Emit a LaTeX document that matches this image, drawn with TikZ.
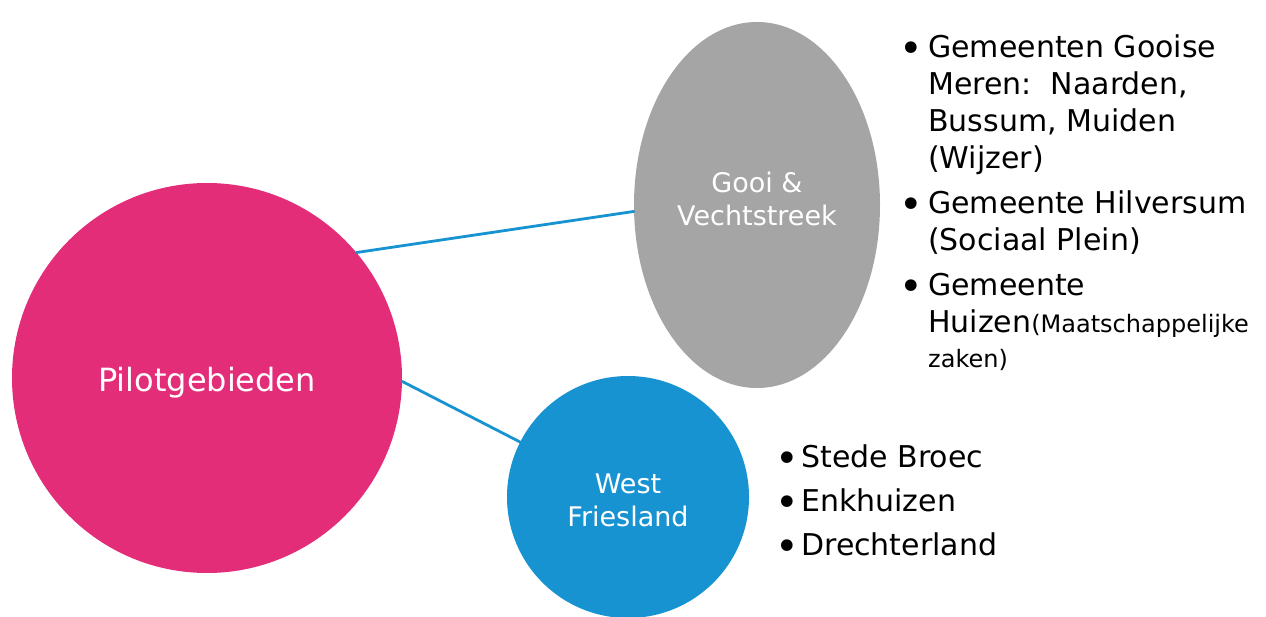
\documentclass[tikz,border=0pt]{standalone}
\usepackage{fontspec}
\setmainfont{DejaVu Sans}
\usetikzlibrary{shapes.geometric}
\definecolor{pilotroze}{HTML}{E32D78}
\definecolor{gooigrijs}{HTML}{A5A5A5}
\definecolor{friesblauw}{HTML}{1893D2}
\newcommand{\blt}[1]{\makebox[#1][l]{\raisebox{-5.5pt}{\fontsize{40}{0}\selectfont\textbullet}}}
\newcommand{\schuif}[2]{\raisebox{#1}[\height][\depth]{#2}}
\begin{document}
\begin{tikzpicture}[x=1pt, y=-1pt, line join=round, line cap=round,
	gebied/.style={draw=none, text=white, align=center, inner sep=0pt},
	lijn/.style={draw=friesblauw, line width=2.8pt},
	lijst/.style={anchor=north west, inner sep=0pt, align=left}]
	\useasboundingbox (0,0) rectangle (1266,617);
	% regio's
	\node[gebied, circle, fill=pilotroze, minimum size=390pt, font=\fontsize{32}{38}\selectfont] (pil) at (207,378) {\schuif{-5pt}{Pilotgebieden}};
	\node[gebied, ellipse, fill=gooigrijs, minimum width=246pt, minimum height=366pt, font=\fontsize{27}{33}\selectfont] (gooi) at (757,205) {\schuif{3pt}{\begin{tabular}{@{}c@{}}Gooi \&\\Vechtstreek\end{tabular}}};
	\node[gebied, circle, fill=friesblauw, minimum size=242pt, font=\fontsize{27}{33}\selectfont] (wf) at (628,497) {\schuif{-6pt}{\begin{tabular}{@{}c@{}}West\\Friesland\end{tabular}}};
	\draw[lijn] (pil.40)--(gooi.183) (pil.-1)--(wf.153);
	% gemeenten
	\node[lijst, font=\fontsize{30}{37}\selectfont] (gooilijst) at (899,31) {%
		\begin{tabular}{@{}l@{}l@{}}
		\blt{29pt}&Gemeenten Gooise\\
		&Meren:\ \ Naarden,\\
		&Bussum, Muiden\\
		&(Wijzer)\\[8pt]
		\blt{29pt}&Gemeente Hilversum\\
		&(Sociaal Plein)\\[8pt]
		\blt{29pt}&Gemeente\\
		&Huizen{\fontsize{24}{30}\selectfont(Maatschappelijke}\\[-2pt]
		&{\fontsize{24}{30}\selectfont zaken)}
		\end{tabular}};
	\node[lijst, font=\fontsize{30}{44}\selectfont] (wflijst) at (775,436) {%
		\begin{tabular}{@{}l@{}l@{}}
		\blt{26pt}&Stede Broec\\
		\blt{26pt}&Enkhuizen\\
		\blt{26pt}&Drechterland
		\end{tabular}};
\end{tikzpicture}
\end{document}
